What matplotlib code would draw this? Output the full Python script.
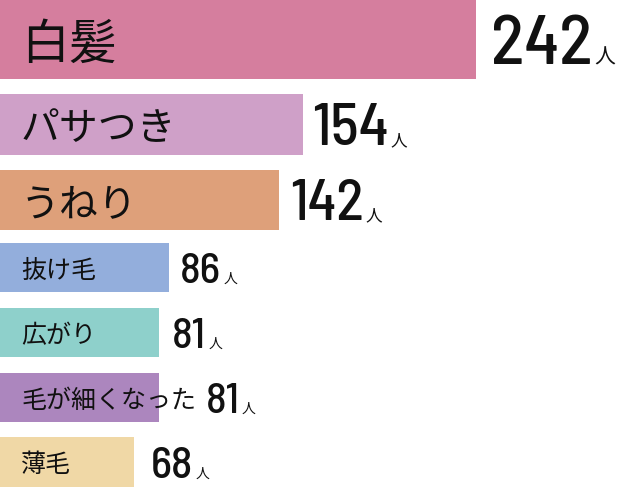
import matplotlib
matplotlib.use("Agg")
import matplotlib.pyplot as plt
from matplotlib import font_manager

# data
labels = ["白髪", "パサつき", "うねり", "抜け毛", "広がり", "毛が細くなった", "薄毛"]
counts = [242, 154, 142, 86, 81, 81, 68]
unit = "人"
colors = ["#D57E9E", "#CFA0C8", "#DEA07A", "#93AEDC", "#8ED0CB", "#AC86BE", "#F0D8A6"]

# layout (pixels, figure is 620x487)
W, H, DPI = 620, 487, 100
PX_PER_UNIT = 1.967
centers = [39.5, 124.5, 200, 267.5, 332.5, 397.5, 462]
heights = [79, 61, 60, 49, 49, 49, 50]
label_sizes = [34.5, 28, 28, 18, 18, 18, 18]
num_sizes = [50, 43, 41, 31, 31, 31, 32]
unit_sizes = [15, 12, 12, 10, 10, 10, 10]
gaps = [15, 9, 11, 11, 13, 10, 17]

cjk = ["Noto Sans CJK JP", "DejaVu Sans"]
names = {f.name for f in font_manager.fontManager.ttflist}
if "Barlow Semi Condensed" in names:
    num_font = dict(family="Barlow Semi Condensed", weight=500)
elif "Barlow Condensed" in names:
    num_font = dict(family="Barlow Condensed", weight=500)
else:
    num_font = dict(family="DejaVu Sans", stretch="condensed")

fig = plt.figure(figsize=(W / DPI, H / DPI), dpi=DPI)
ax = fig.add_axes([0, 0, 1, 1])
ax.set_xlim(0, W / PX_PER_UNIT)
ax.set_ylim(H, 0)
ax.axis("off")

ax.barh(centers, counts, height=heights, color=colors, left=0)

renderer = fig.canvas.get_renderer()
to_data = ax.transData.inverted()

for i, lab in enumerate(labels):
    lab_px = label_sizes[i] * DPI / 72
    t = ax.text(21 / PX_PER_UNIT, centers[i] + 0.38 * lab_px + 1, lab,
                fontsize=label_sizes[i], family=cjk, va="baseline", ha="left",
                color="#111111")
    # end of the label in pixel units
    bb = t.get_window_extent(renderer)
    lab_end = to_data.transform((bb.x1, bb.y0))[0] * PX_PER_UNIT
    bar_end = counts[i] * PX_PER_UNIT
    x0 = max(lab_end, bar_end) + gaps[i]
    fs_px = num_sizes[i] * DPI / 72
    base = centers[i] + 0.35 * fs_px
    n = ax.text(x0 / PX_PER_UNIT, base, str(counts[i]), fontsize=num_sizes[i],
                va="baseline", ha="left", color="#111111", **num_font)
    nb = n.get_window_extent(renderer)
    nx = to_data.transform((nb.x1, nb.y0))[0]
    ax.text(nx + 2 / PX_PER_UNIT, base, unit, fontsize=unit_sizes[i],
            family=cjk, va="baseline", ha="left", color="#111111")

fig.savefig("out.png", dpi=DPI, facecolor="white")
